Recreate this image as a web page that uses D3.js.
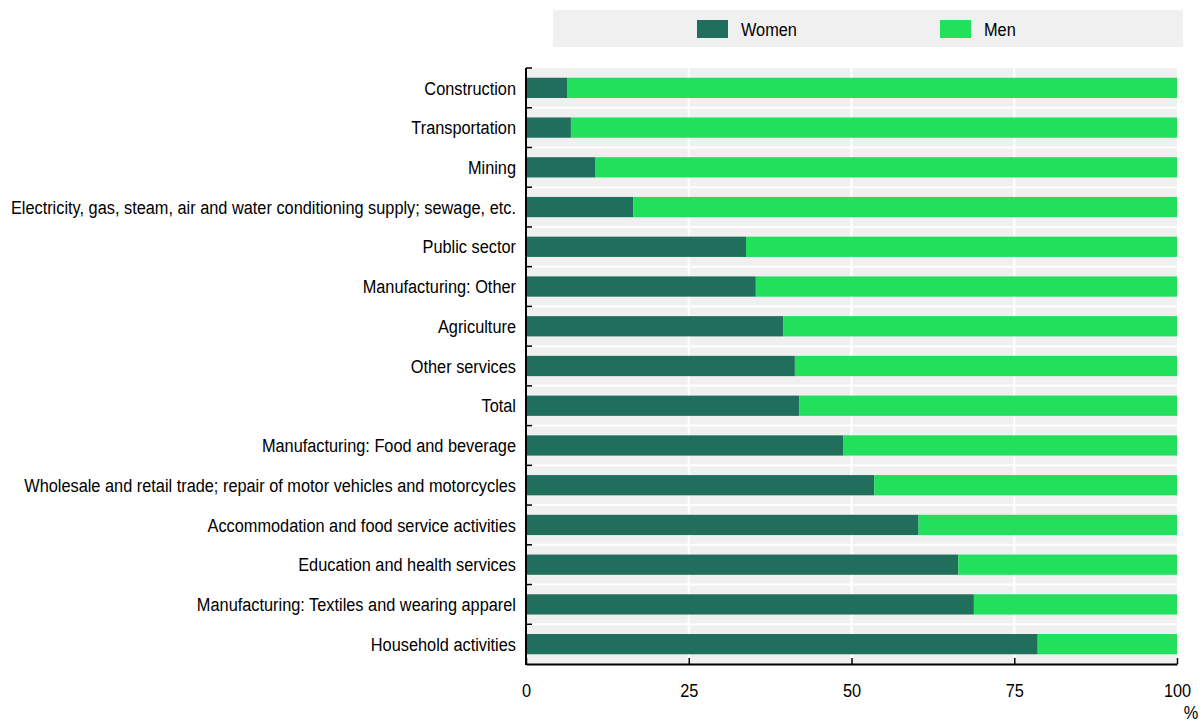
<!DOCTYPE html>
<html>
<head>
<meta charset="utf-8">
<script src="https://cdn.jsdelivr.net/npm/d3@7"></script>
<style>
  body { margin: 0; background: #fff; }
  svg text { font-family: "Liberation Sans", Arial, sans-serif; fill: #000; }
</style>
</head>
<body>
<div id="chart"></div>
<script>
const categories = [
  'Construction',
  'Transportation',
  'Mining',
  'Electricity, gas, steam, air and water conditioning supply; sewage, etc.',
  'Public sector',
  'Manufacturing: Other',
  'Agriculture',
  'Other services',
  'Total',
  'Manufacturing: Food and beverage',
  'Wholesale and retail trade; repair of motor vehicles and motorcycles',
  'Accommodation and food service activities',
  'Education and health services',
  'Manufacturing: Textiles and wearing apparel',
  'Household activities'
];
const women = [6.3, 6.9, 10.6, 16.5, 33.8, 35.3, 39.5, 41.3, 42.0, 48.7, 53.5, 60.3, 66.4, 68.8, 78.6];
const men = women.map(w => 100 - w);
const seriesNames = ['Women', 'Men'];
const xTicks = [0, 25, 50, 75, 100];

const colors = { Women: '#206f5c', Men: '#22e05c' };

const width = 1202, height = 723;
const margin = { left: 526, right: 25, top: 68, bottom: 59 };
// the original uses a tall narrow face: squeeze Liberation Sans horizontally
const FONT = '19px';
const SQUEEZE = 0.86;

const svg = d3.select('#chart')
  .append('svg')
  .attr('width', width)
  .attr('height', height);

const x = d3.scaleLinear()
  .domain([0, 100])
  .range([margin.left, width - margin.right]);

const y = d3.scaleBand()
  .domain(categories)
  .range([margin.top, height - margin.bottom])
  .paddingInner(0.49)
  .paddingOuter(0.245);

// plot background
svg.append('rect')
  .attr('x', x(0))
  .attr('y', margin.top)
  .attr('width', x(100) - x(0))
  .attr('height', height - margin.bottom - margin.top)
  .attr('fill', '#f0f0f0');

// white grid: verticals at ticks, horizontals at band boundaries
const step = y.step();
const boundaries = d3.range(categories.length + 1).map(i => margin.top + i * step);

svg.append('g')
  .selectAll('line')
  .data(xTicks.slice(1, -1))
  .join('line')
  .attr('x1', d => x(d)).attr('x2', d => x(d))
  .attr('y1', margin.top).attr('y2', height - margin.bottom)
  .attr('stroke', '#fff').attr('stroke-width', 2);

svg.append('g')
  .selectAll('line')
  .data(boundaries.slice(1, -1))
  .join('line')
  .attr('x1', x(0)).attr('x2', x(100))
  .attr('y1', d => d).attr('y2', d => d)
  .attr('stroke', '#fff').attr('stroke-width', 2);

// stacked bars
const rows = categories.map((c, i) => ({ cat: c, Women: women[i], Men: men[i] }));
const stacked = d3.stack().keys(seriesNames)(rows);

svg.append('g')
  .selectAll('g')
  .data(stacked)
  .join('g')
  .attr('fill', d => colors[d.key])
  .selectAll('rect')
  .data(d => d)
  .join('rect')
  .attr('x', d => x(d[0]))
  .attr('y', d => y(d.data.cat))
  .attr('width', d => x(d[1]) - x(d[0]))
  .attr('height', y.bandwidth());

// y axis line, inward ticks at boundaries
svg.append('line')
  .attr('x1', x(0)).attr('x2', x(0))
  .attr('y1', margin.top).attr('y2', height - margin.bottom + 1)
  .attr('stroke', '#000').attr('stroke-width', 2);

svg.append('g')
  .selectAll('line')
  .data(boundaries.slice(0, -1))
  .join('line')
  .attr('x1', x(0)).attr('x2', x(0) + 6)
  .attr('y1', d => d).attr('y2', d => d)
  .attr('stroke', '#000').attr('stroke-width', 1.5);

// category labels
svg.append('g')
  .selectAll('text')
  .data(categories)
  .join('text')
  .attr('transform', d => `translate(${x(0) - 10},${y(d) + y.bandwidth() / 2}) scale(${SQUEEZE},1)`)
  .attr('dy', '0.35em')
  .attr('text-anchor', 'end')
  .style('font-size', FONT)
  .text(d => d);

// x axis
const xAxisY = height - margin.bottom;
const xAxis = d3.axisBottom(x).tickValues(xTicks).tickSize(0).tickPadding(20);
const gx = svg.append('g')
  .attr('transform', `translate(0,${xAxisY})`)
  .call(xAxis);
gx.select('.domain').attr('stroke', '#000').attr('stroke-width', 2);
gx.selectAll('text')
  .attr('transform', `scale(${SQUEEZE},1)`)
  .style('font-size', FONT)
  .style('font-family', '"Liberation Sans", Arial, sans-serif');
gx.selectAll('.tick')
  .append('line')
  .attr('y1', 0).attr('y2', -6)
  .attr('stroke', '#000').attr('stroke-width', 1.5);

svg.append('text')
  .attr('transform', `translate(${x(100) + 14},719) scale(${SQUEEZE},1)`)
  .attr('text-anchor', 'middle')
  .style('font-size', FONT)
  .text('%');

// legend
svg.append('rect')
  .attr('x', 553).attr('y', 10)
  .attr('width', 630).attr('height', 37)
  .attr('fill', '#f0f0f0');

const legendX = [697, 940];
const lg = svg.append('g')
  .selectAll('g')
  .data(seriesNames)
  .join('g')
  .attr('transform', (d, i) => `translate(${legendX[i]},20)`);
lg.append('rect')
  .attr('width', 31).attr('height', 18)
  .attr('fill', d => colors[d]);
lg.append('text')
  .attr('transform', `translate(44,9) scale(${SQUEEZE},1)`)
  .attr('dy', '0.35em')
  .style('font-size', FONT)
  .text(d => d);
</script>
</body>
</html>
